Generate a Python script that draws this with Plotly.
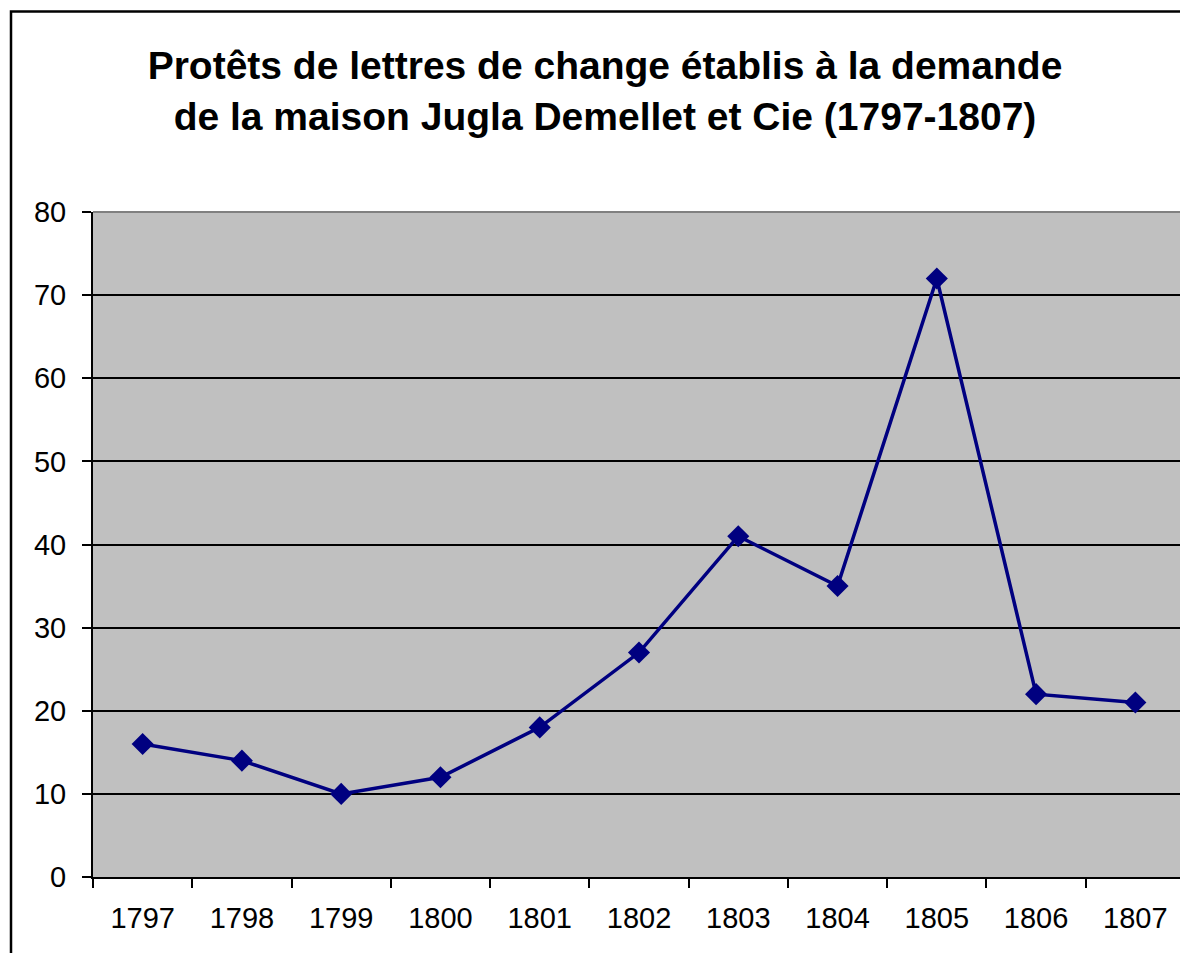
import plotly.graph_objects as go

years = ["1797", "1798", "1799", "1800", "1801", "1802", "1803", "1804", "1805", "1806", "1807"]
protets = [16, 14, 10, 12, 18, 27, 41, 35, 72, 22, 21]
y_ticks = [0, 10, 20, 30, 40, 50, 60, 70, 80]

# page is offset by the 8px default body margin; figure coords = page coords - 8
W, H = 1180, 945
L, R, T, B = 85, 3, 204, 76
pw, ph = W - L - R, H - T - B

def px_x(p):
    return (p - L) / pw

def px_y(p):
    return (H - B - p) / ph

fig = go.Figure()
fig.add_trace(go.Scatter(
    x=years, y=protets, mode="lines+markers",
    line=dict(color="#000080", width=3.5),
    marker=dict(symbol="diamond", size=17, color="#000080"),
    showlegend=False, cliponaxis=False,
))

fig.update_layout(
    width=W, height=H,
    margin=dict(l=L, r=R, t=T, b=B),
    paper_bgcolor="white",
    plot_bgcolor="#C0C0C0",
    font=dict(family="Liberation Sans, Arial", color="black", size=29),
    title=dict(
        text="Protêts de lettres de change établis à la demande<br>de la maison Jugla Demellet et Cie (1797-1807)",
        x=597 / W, xanchor="center",
        y=1 - 71 / H, yanchor="middle",
        font=dict(size=39, family="Liberation Sans, Arial", weight="bold", color="black"),
    ),
    xaxis=dict(
        type="category", tickson="boundaries", ticks="outside", ticklen=9,
        tickwidth=2, tickcolor="black",
        showline=True, linecolor="black", linewidth=2,
        showgrid=False, range=[-0.5, 10.5],
        tickfont=dict(size=29), ticklabelstandoff=14,
    ),
    yaxis=dict(
        range=[0, 80], tickvals=y_ticks, ticks="outside", ticklen=9,
        tickwidth=2, tickcolor="black",
        showline=True, linecolor="black", linewidth=2,
        showgrid=True, gridcolor="black", gridwidth=1.8,
        zeroline=False, tickfont=dict(size=29), ticklabelstandoff=10,
    ),
    shapes=[
        dict(type="line", xref="paper", yref="paper", x0=0, x1=1, y0=1, y1=1,
             line=dict(color="#808080", width=2), layer="above"),
        dict(type="line", xref="paper", yref="paper", x0=1, x1=1, y0=0, y1=1,
             line=dict(color="#808080", width=2), layer="above"),
        dict(type="rect", xref="paper", yref="paper",
             x0=px_x(3), x1=px_x(W + 20), y0=px_y(H + 20), y1=px_y(3.5),
             line=dict(color="black", width=2.5), fillcolor="rgba(0,0,0,0)", layer="above"),
    ],
)

fig.write_html("out.html")
